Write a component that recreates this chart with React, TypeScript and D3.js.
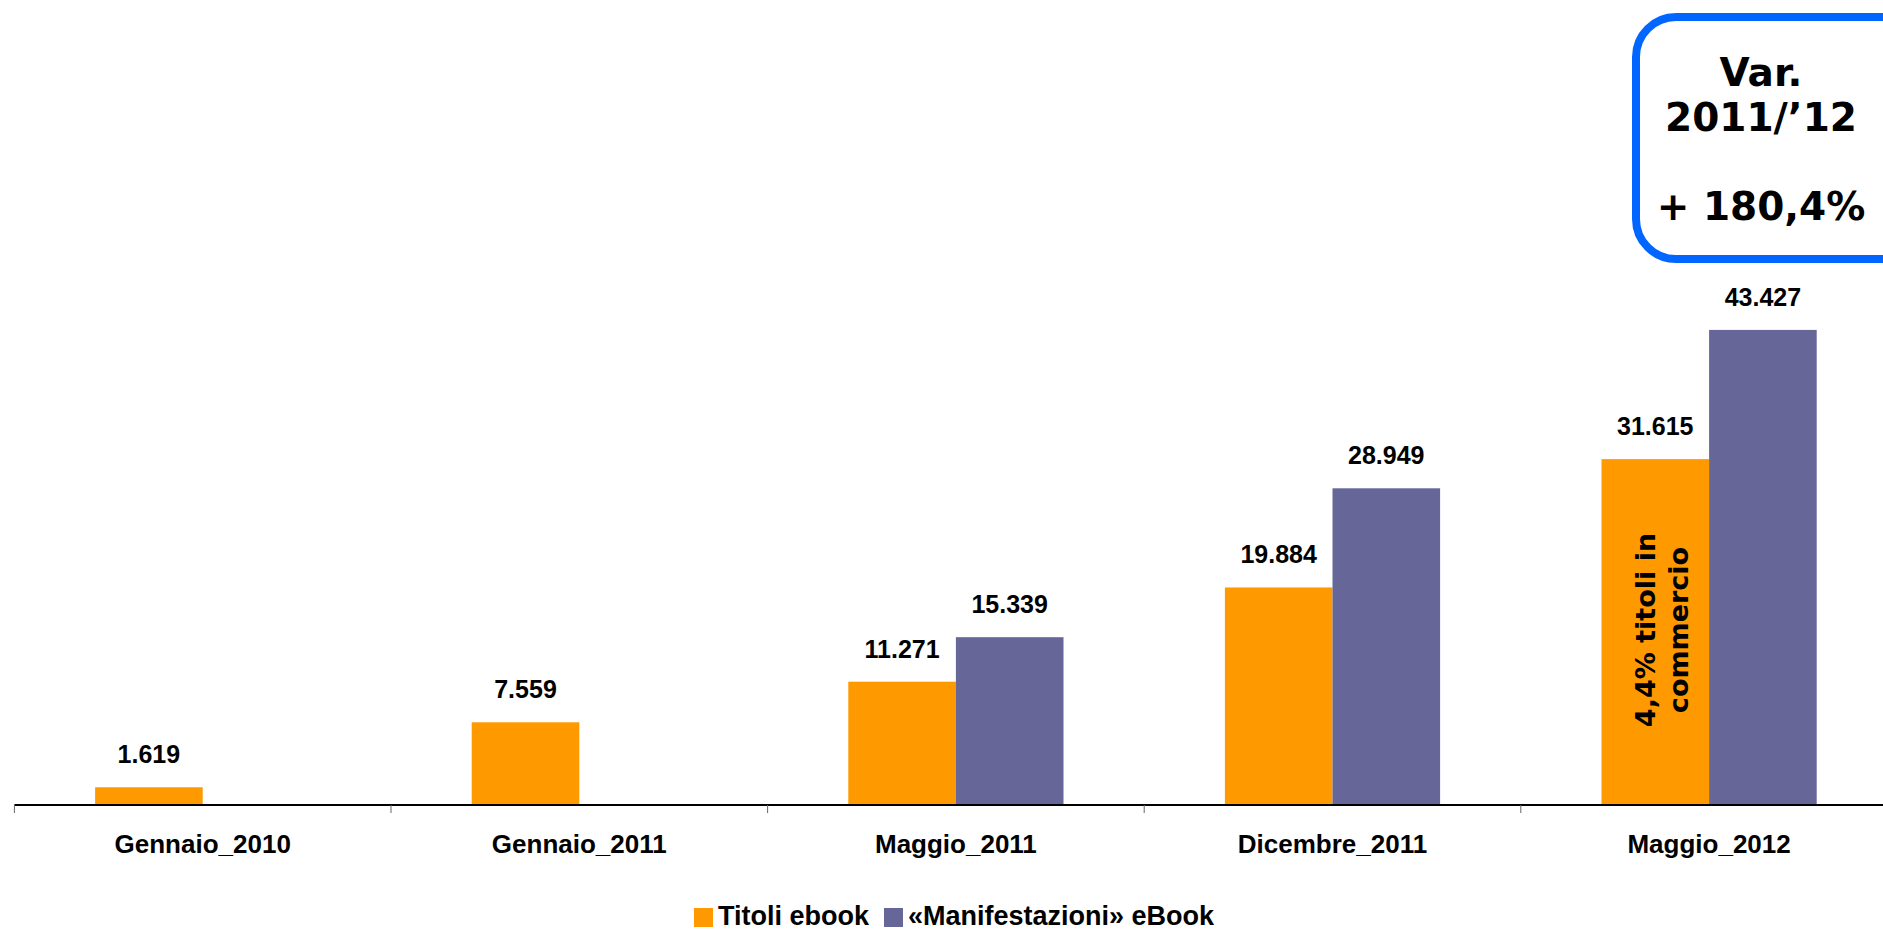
import React from "react";
import * as d3 from "d3";

const categories = ["Gennaio_2010", "Gennaio_2011", "Maggio_2011", "Dicembre_2011", "Maggio_2012"];
const titoliEbook: (number | null)[] = [1619, 7559, 11271, 19884, 31615];
const manifestazioni: (number | null)[] = [null, null, 15339, 28949, 43427];
const seriesNames = ["Titoli ebook", "«Manifestazioni» eBook"];
const seriesColors = ["#FF9900", "#666699"];
const boxLines = ["Var.", "2011/’12", "+ 180,4%"];
const noteLines = ["4,4% titoli in", "commercio"];

const W = 1883;
const H = 932;
const fmt = (v: number) => d3.format(",")(v).replace(/,/g, ".");

export default function App() {
  const x0 = d3.scaleBand<string>().domain(categories).range([14.4, 14.4 + 5 * 376.6]).paddingInner(0).paddingOuter(0);
  const x1 = d3.scaleBand<string>().domain(["a", "b"]).range([0, x0.bandwidth()]).paddingInner(0).paddingOuter(0.75);
  const y = d3.scaleLinear().domain([0, 50000]).range([805, 258]);
  const series = [titoliEbook, manifestazioni];
  const keys = ["a", "b"];
  const baseY = y(0);
  const ticks = d3.range(categories.length + 1).map((i) => 14.4 + i * x0.step());

  const noteCat = categories[4];
  const noteX = (x0(noteCat) as number) + (x1("a") as number) + x1.bandwidth() / 2 + 6;
  const noteY = 630;

  return (
    <svg width={W} height={H} style={{ position: "absolute", left: 0, top: 0, background: "#fff" }}>
      {/* bars */}
      {series.map((vals, si) =>
        vals.map((v, ci) =>
          v == null ? null : (
            <rect
              key={`b${si}-${ci}`}
              x={(x0(categories[ci]) as number) + (x1(keys[si]) as number)}
              y={y(v)}
              width={x1.bandwidth()}
              height={baseY - y(v)}
              fill={seriesColors[si]}
            />
          )
        )
      )}
      {/* value labels */}
      {series.map((vals, si) =>
        vals.map((v, ci) =>
          v == null ? null : (
            <text
              key={`l${si}-${ci}`}
              x={(x0(categories[ci]) as number) + (x1(keys[si]) as number) + x1.bandwidth() / 2}
              y={y(v) - 24}
              textAnchor="middle"
              fontFamily="'Liberation Sans', Arial, sans-serif"
              fontWeight="bold"
              fontSize={25}
              fill="#000"
            >
              {fmt(v)}
            </text>
          )
        )
      )}
      {/* axis */}
      <line x1={14.4} x2={W} y1={baseY} y2={baseY} stroke="#000" strokeWidth={2} />
      {ticks.map((t, i) => (
        <line key={`t${i}`} x1={t} x2={t} y1={baseY} y2={baseY + 8} stroke="#666" strokeWidth={1} />
      ))}
      {categories.map((c) => (
        <text
          key={c}
          x={(x0(c) as number) + x0.bandwidth() / 2}
          y={853}
          textAnchor="middle"
          fontFamily="'Liberation Sans', Arial, sans-serif"
          fontWeight="bold"
          fontSize={26}
          fill="#000"
        >
          {c}
        </text>
      ))}
      {/* rotated note inside bar */}
      <g transform={`translate(${noteX},${noteY}) rotate(-90)`}>
        {noteLines.map((l, i) => (
          <text
            key={l}
            x={0}
            y={(i - (noteLines.length - 1) / 2) * 33 + 10}
            textAnchor="middle"
            fontFamily="'DejaVu Sans', Verdana, sans-serif"
            fontWeight="bold"
            fontSize={27}
            fill="#000"
          >
            {l}
          </text>
        ))}
      </g>
      {/* variation box */}
      <rect x={1636} y={17} width={290} height={242} rx={40} ry={40} fill="#fff" stroke="#0066FF" strokeWidth={8} />
      {boxLines.map((l, i) => (
        <text
          key={l}
          x={1761}
          y={[86, 131, 220][i]}
          textAnchor="middle"
          fontFamily="'DejaVu Sans', Verdana, sans-serif"
          fontWeight="bold"
          fontSize={39}
          fill="#000"
        >
          {l}
        </text>
      ))}
      {/* legend */}
      <g>
        <rect x={694} y={908} width={19} height={19} fill={seriesColors[0]} />
        <text x={718} y={925} fontFamily="'Liberation Sans', Arial, sans-serif" fontWeight="bold" fontSize={27} fill="#000">
          {seriesNames[0]}
        </text>
        <rect x={884} y={908} width={19} height={19} fill={seriesColors[1]} />
        <text x={908} y={925} fontFamily="'Liberation Sans', Arial, sans-serif" fontWeight="bold" fontSize={27} fill="#000">
          {seriesNames[1]}
        </text>
      </g>
    </svg>
  );
}
